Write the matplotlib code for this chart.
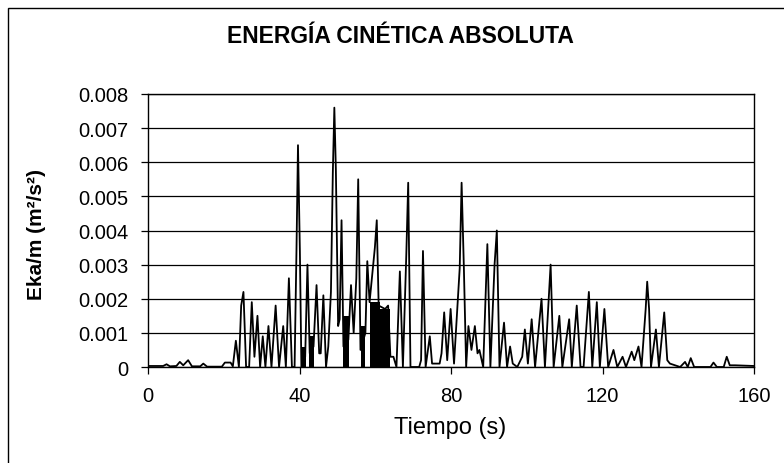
import matplotlib.pyplot as plt
from matplotlib.patches import Rectangle
from matplotlib.ticker import FuncFormatter

plt.rcParams['font.family'] = ['Liberation Sans', 'DejaVu Sans']

# vertices of the absolute kinetic energy record (time in s, Eka/m in m2/s2)
tiempo = [0, 4.0, 4.9, 5.8, 7.5, 8.4, 9.3, 10.6, 11.6, 13.8, 14.6, 15.6, 19.5, 20.3, 21.8, 22.4,
          23.2, 24.0, 24.6, 25.2, 25.9, 26.7, 27.4, 28.1, 28.9, 29.6, 30.3, 31.0, 31.8, 32.6,
          33.7, 34.6, 35.7, 36.4, 37.2, 38.0, 38.7, 39.2, 39.6, 40.1, 40.5,
          41.5, 42.1, 42.7, 43.7, 44.5, 45.2, 45.6, 46.3, 47.0, 47.6, 48.3, 48.8, 49.2, 49.6,
          50.2, 50.6, 51.1, 51.6, 52.9, 53.6, 54.3, 55.0, 55.5, 56.1, 57.4, 57.9, 58.5, 59.9,
          60.4, 60.9, 62.6, 63.4, 64.0, 64.8, 65.6, 66.5, 67.3, 68.2, 68.7, 69.3, 70.6, 71.6,
          72.1, 72.6, 73.3, 74.4, 75.0, 77.0, 77.5, 78.2, 79.0, 79.9, 80.8, 82.3, 82.8, 83.4,
          84.0, 84.6, 85.4, 86.3, 87.0, 87.5, 88.5, 89.6, 90.4, 91.5, 92.1, 92.8, 94.0, 94.8,
          95.6, 96.3, 97.5, 98.8, 99.5, 100.3, 101.3, 102.2, 103.9, 104.8, 105.8, 106.3, 107.1,
          108.6, 109.4, 111.2, 111.9, 113.2, 114.2, 115.0, 116.4, 117.3, 118.5, 119.3, 120.5,
          121.5, 122.9, 123.9, 125.3, 126.2, 127.7, 128.4, 129.5, 130.3, 131.4, 131.8, 132.3,
          132.8, 134.1, 134.9, 136.3, 137.1, 137.8, 140.5, 141.8, 142.5, 143.3, 144.2, 148.5,
          149.3, 150.2, 152.0, 152.8, 153.6, 155.0, 160.0]
eka = [0.00003, 0.00003, 0.00008, 0.00002, 0.00003, 0.00015, 0.00005, 0.0002, 0.00002, 0.00002,
       0.0001, 0.00001, 0.00001, 0.00013, 0.00013, 0.00002,
       0.00077, 0.0, 0.0018, 0.0022, 0.0, 0.0, 0.0019, 0.0003, 0.0015, 0.0, 0.0009, 0.0, 0.0012,
       0.0, 0.0018, 0.0, 0.0012, 0.0, 0.0026, 0.0, 0.0, 0.0034, 0.0065, 0.0034, 0.0,
       0.0003, 0.0030, 0.0004, 0.0006, 0.0024, 0.0004, 0.0004, 0.0021, 0.0, 0.0006, 0.0022,
       0.0057, 0.0076, 0.0058, 0.0012, 0.0014, 0.0043, 0.0006, 0.0008, 0.0024, 0.0010, 0.0026,
       0.0055, 0.0005, 0.0010, 0.0031, 0.0019, 0.0035, 0.0043, 0.0018, 0.0017, 0.0018, 0.0003,
       0.0003, 0.0, 0.0028, 0.0, 0.0033, 0.0054, 0.0, 0.0, 0.0, 0.0002, 0.0034, 0.0, 0.0009,
       0.0001, 0.0001, 0.0004, 0.0016, 0.0002, 0.0017, 0.0001, 0.0029, 0.0054, 0.0029, 0.0,
       0.0012, 0.0005, 0.0012, 0.0004, 0.0005, 0.0, 0.0036, 0.0, 0.0030, 0.0040, 0.0, 0.0013,
       0.0, 0.0006, 0.0001, 0.0, 0.0003, 0.0011, 0.0001, 0.0014, 0.0, 0.0020, 0.0, 0.0020,
       0.0030, 0.0, 0.0015, 0.0, 0.0014, 0.0, 0.0018, 0.0, 0.0, 0.0022, 0.0, 0.0019, 0.0,
       0.0017, 0.0, 0.0005, 0.0, 0.0003, 0.0, 0.00045, 0.0002, 0.0006, 0.0, 0.0017, 0.0025,
       0.0017, 0.0, 0.0011, 0.0, 0.0016, 0.0002, 0.0001, 0.0, 0.00015, 0.0, 0.00026, 0.0, 0.0,
       0.00013, 0.0, 0.0, 0.0003, 0.00005, 0.00005, 0.00003]

# stretches where the record oscillates too fast to resolve (drawn solid)
banda_ini = [40.3, 42.4, 51.6, 56.3, 58.6, 61.2]
banda_fin = [41.8, 43.8, 53.0, 57.4, 61.2, 63.8]
banda_max = [0.0006, 0.0009, 0.0015, 0.0012, 0.0019, 0.0017]

fig = plt.figure(figsize=(7.84, 4.64), dpi=100)
ax = fig.add_axes([148 / 784, 1 - 368 / 464, (754 - 148) / 784, (368 - 95) / 464])

for t0, t1, h in zip(banda_ini, banda_fin, banda_max):
    ax.fill_between([t0, t1], 0, h, color='black', lw=0)
ax.plot(tiempo, eka, color='black', lw=1.3, solid_joinstyle='round')

ax.set_xlim(0, 160)
ax.set_ylim(0, 0.008)
ax.set_xticks([0, 40, 80, 120, 160])
ax.set_yticks([i * 0.001 for i in range(9)])
ax.yaxis.set_major_formatter(FuncFormatter(lambda v, p: '0' if v == 0 else f'{v:.3f}'))
ax.grid(axis='y', color='black', lw=0.9)
ax.set_axisbelow(True)
ax.tick_params(labelsize=14.5, length=5, width=0.9, color='black', pad=9)
for s in ax.spines.values():
    s.set_linewidth(1.0)

fig.text(0.511, 0.922, 'ENERGÍA CINÉTICA ABSOLUTA', ha='center', va='center',
         fontsize=16.5, fontweight='bold')
fig.text(36 / 784, 1 - 234 / 464, 'Eka/m (m²/s²)', rotation=90, ha='center', va='center',
         fontsize=15, fontweight='bold')
fig.text(450 / 784, 1 - 428 / 464, 'Tiempo (s)', ha='center', va='center', fontsize=17)

# chart frame
fig.patches.append(Rectangle((8 / 784, -0.05), 1.0, 1 - 9 / 464 + 0.05, transform=fig.transFigure,
                             fill=False, lw=1.0, edgecolor='black'))

fig.savefig('out.png', dpi=100)
